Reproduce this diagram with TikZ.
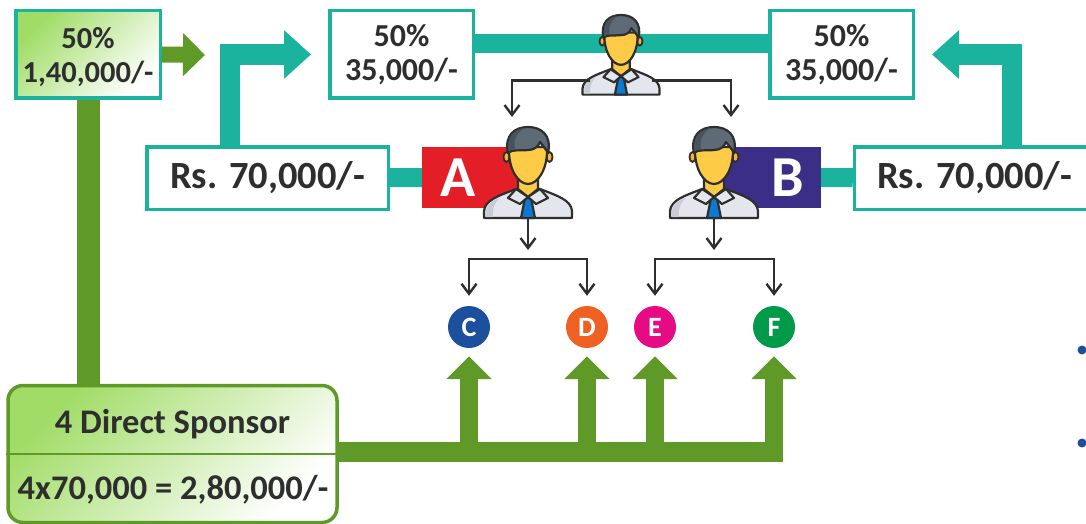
\documentclass[tikz,border=0pt]{standalone}
\usepackage{fontspec}
\setmainfont{Carlito}
\usetikzlibrary{arrows.meta}
\definecolor{tealc}{HTML}{1BB39E}
\definecolor{grassc}{HTML}{5F9A28}
\definecolor{inkc}{HTML}{2E2E2E}
\definecolor{lightg}{HTML}{A0DC66}
\definecolor{bluec}{HTML}{1C4F9C}
\definecolor{redc}{HTML}{E31E26}
\definecolor{navyc}{HTML}{3A2E86}
\definecolor{orangec}{HTML}{EE6123}
\definecolor{pinkc}{HTML}{E60B83}
\definecolor{greenc}{HTML}{009A49}
\definecolor{shirtc}{HTML}{E3E6ED}
\definecolor{shadec}{HTML}{C9CBD6}
\definecolor{facec}{HTML}{FDCB45}
\definecolor{earc}{HTML}{F6B33A}
\definecolor{tiec}{HTML}{0A7BD0}
\definecolor{hairc}{HTML}{5E6A75}
\definecolor{haird}{HTML}{48525C}
\tikzstyle{tealbox} = [rectangle, draw=tealc, line width=3.5pt, fill=white, text=inkc, align=center, inner sep=0pt, font=\fontsize{32}{36}\selectfont\bfseries]
\tikzstyle{greenbox} = [tealbox, top color=lightg, bottom color=white, shading angle=45, font=\fontsize{30.5}{36}\selectfont\bfseries]
\tikzstyle{rsbox} = [tealbox, minimum height=62.5pt, font=\fontsize{38.5}{42}\selectfont\bfseries]
\tikzstyle{sponsorbox} = [rectangle, rounded corners=15pt, draw=grassc, line width=3.5pt, top color=lightg, bottom color=white, shading angle=45, minimum width=329pt, minimum height=137pt, inner sep=0pt]
\tikzstyle{sponsortext} = [text=inkc, inner sep=0pt, font=\fontsize{34.5}{38}\selectfont\bfseries]
\tikzstyle{letterbox} = [rectangle, text=white, minimum width=102pt, minimum height=61pt, inner sep=0pt, font=\fontsize{58}{60}\selectfont\bfseries]
\tikzstyle{ball} = [circle, minimum size=42pt, inner sep=0pt, text=white, font=\fontsize{28}{30}\selectfont\bfseries]
\tikzstyle{bullet} = [circle, fill=bluec, minimum size=9pt, inner sep=0pt]
\tikzstyle{tealbar} = [draw=tealc, line width=19pt]
\tikzstyle{tealarrow} = [draw=tealc, line width=20.5pt, -{Triangle[length=27pt,width=47pt]}]
\tikzstyle{grassbar} = [draw=grassc, line width=20pt]
\tikzstyle{grassarrow} = [draw=grassc, line width=18pt, -{Triangle[length=23pt,width=44pt]}]
\tikzstyle{arrow} = [draw=inkc, line width=2.4pt, -{Straight Barb[length=10pt,width=15pt,line width=2.4pt]}]
\tikzset{person/.pic={
  \coordinate (-left) at (-35,75);
  \coordinate (-right) at (35,75);
  \coordinate (-bottom) at (0,91);
  % shirt
  \draw[draw=inkc, line width=2.2pt, fill=shirtc, line join=round] (-44,91) -- (-44,84) .. controls (-43,73) and (-30,69) .. (-12,62) -- (12,62) .. controls (30,69) and (43,73) .. (44,84) -- (44,91) -- cycle;
  \fill[shadec] (-42,90) -- (-42,84) .. controls (-41,77) and (-35,73) .. (-28,71) .. controls (-34,76) and (-36,82) .. (-35,90) -- cycle;
  % neck
  \draw[draw=inkc, line width=2.2pt, fill=facec] (-10,50) -- (-10,62) -- (0,70) -- (10,62) -- (10,50);
  % collar and tie
  \draw[draw=inkc, line width=2.2pt, fill=tiec, line join=round] (-3,71) -- (3,71) -- (7,91) -- (-7,91) -- cycle;
  \draw[draw=inkc, line width=2.2pt, fill=shirtc, line join=round] (-12,62) -- (-20,71) -- (-8,77) -- (0,70) -- (8,77) -- (20,71) -- (12,62) -- (0,70) -- cycle;
  % ears
  \draw[draw=inkc, line width=1.8pt, fill=earc] (-21.5,30) ellipse (3 and 5);
  \draw[draw=inkc, line width=1.8pt, fill=earc] (21.5,30) ellipse (3 and 5);
  % face
  \draw[draw=inkc, line width=2.2pt, fill=facec] (-19,20) -- (19,20) .. controls (20,42) and (10,57) .. (0,57) .. controls (-10,57) and (-20,42) .. (-19,20) -- cycle;
  % hair
  \draw[draw=inkc, line width=2.2pt, fill=hairc, line join=round] (-20,26) .. controls (-24,8) and (-13,0) .. (0,0) .. controls (13,0) and (24,8) .. (20,26) .. controls (18,22) and (14,18) .. (12,15) .. controls (10,20) and (6,23) .. (0,23) .. controls (-8,24) and (-16,22) .. (-20,26) -- cycle;
  \fill[haird] (-19,23) .. controls (-22,9) and (-13,2) .. (-3,1) .. controls (-11,5) and (-15,13) .. (-13,22.5) .. controls (-15,22.5) and (-17,23) .. (-19,23) -- cycle;
}}
\begin{document}
\begin{tikzpicture}[x=1pt,y=-1pt]
\useasboundingbox (0,0) rectangle (1086,524);
\coordinate (barmid) at (621,44);
\coordinate (turnL) at (230,54.5);
\coordinate (turnR) at (1012,54.5);
\coordinate (greentip) at (205,55);
\coordinate (dropA) at (512,117);
\coordinate (dropB) at (731,117);
\coordinate (tipA) at (528,250);
\coordinate (tipB) at (714,250);
\coordinate (forkA) at (528,259);
\coordinate (forkB) at (714,259);
\coordinate (busrow) at (339,452);
\coordinate (busend) at (783,452);
\coordinate (busfoot) at (339,462);
% boxes
\node (boxMain) [greenbox, minimum width=144.5pt, minimum height=87.5pt, text depth=0pt] at (88,54.5) {50\%\\[-2pt]1,40,000/-};
\node (boxL) [tealbox, minimum width=143.5pt, minimum height=87.5pt] at (401.5,54.5) {50\%\\[-2pt]35,000/-};
\node (boxR) [tealbox, minimum width=143.5pt, minimum height=87.5pt] at (841.5,54.5) {50\%\\[-2pt]35,000/-};
\node (rsA) [rsbox, minimum width=241.5pt] at (267.5,178) {\raisebox{-1.5pt}{Rs. 70,000/-}};
\node (rsB) [rsbox, minimum width=240pt] at (974.5,178) {\raisebox{-1.5pt}{Rs. 70,000/-}};
\node (labelA) [letterbox, fill=redc] at (473,177.5) {A\hspace{30pt}\mbox{}};
\node (labelB) [letterbox, fill=navyc] at (770,177.5) {\hspace{35pt}B};
\node (sponsor) [sponsorbox] at (172.5,454) {};
\node (sponsorTop) [sponsortext] at (172.5,424) {4 Direct Sponsor};
\node (sponsorSum) [sponsortext] at (173,490) {4x70,000 = 2,80,000/-};
\node (ballC) [ball, fill=bluec] at (469,327) {C};
\node (ballD) [ball, fill=orangec] at (587,327) {D};
\node (ballE) [ball, fill=pinkc] at (655,327) {E};
\node (ballF) [ball, fill=greenc] at (774,327) {F};
\node (dotA) [bullet] at (1082,350) {};
\node (dotB) [bullet] at (1082,443) {};
% thick connectors
\draw [tealbar] (boxL.east |- barmid) -- (boxR.west |- barmid);
\draw [tealbar] (rsA) -- (labelA);
\draw [tealbar] (labelB) -- (rsB);
\draw [tealarrow, shorten >=17pt] (rsA.north -| turnL) |- (boxL.west);
\draw [tealarrow, shorten >=17pt] (rsB.north -| turnR) |- (boxR.east);
\draw [draw=grassc, line width=16pt, -{Triangle[length=22pt,width=42pt]}] (boxMain.east) -- (greentip);
\draw [draw=grassc, line width=23pt] (boxMain.south) -- (boxMain.south |- sponsor.north);
\draw [grassbar] (sponsor.east |- busrow) -- (busend);
\draw [grassarrow, shorten >=8pt] (ballC.south |- busfoot) -- (ballC.south);
\draw [grassarrow, shorten >=8pt] (ballD.south |- busfoot) -- (ballD.south);
\draw [grassarrow, shorten >=8pt] (ballE.south |- busfoot) -- (ballE.south);
\draw [grassarrow, shorten >=8pt] (ballF.south |- busfoot) -- (ballF.south);
% divider in the sponsor box
\draw [draw=grassc, line width=2pt] (sponsor.west) -- (sponsor.east);
% people
\pic (manTop) [scale=.875] at (621,15) {person};
\pic (manA) at (528,127) {person};
\pic (manB) at (714,127) {person};
% thin arrows
\draw [arrow] (manTop-left) -| (dropA);
\draw [arrow] (manTop-right) -| (dropB);
\draw [arrow] (manA-bottom) -- (tipA);
\draw [arrow] (manB-bottom) -- (tipB);
\draw [arrow, shorten >=10pt] (forkA) -| (ballC.north);
\draw [arrow, shorten >=10pt] (forkA) -| (ballD.north);
\draw [arrow, shorten >=10pt] (forkB) -| (ballE.north);
\draw [arrow, shorten >=10pt] (forkB) -| (ballF.north);
\end{tikzpicture}
\end{document}
